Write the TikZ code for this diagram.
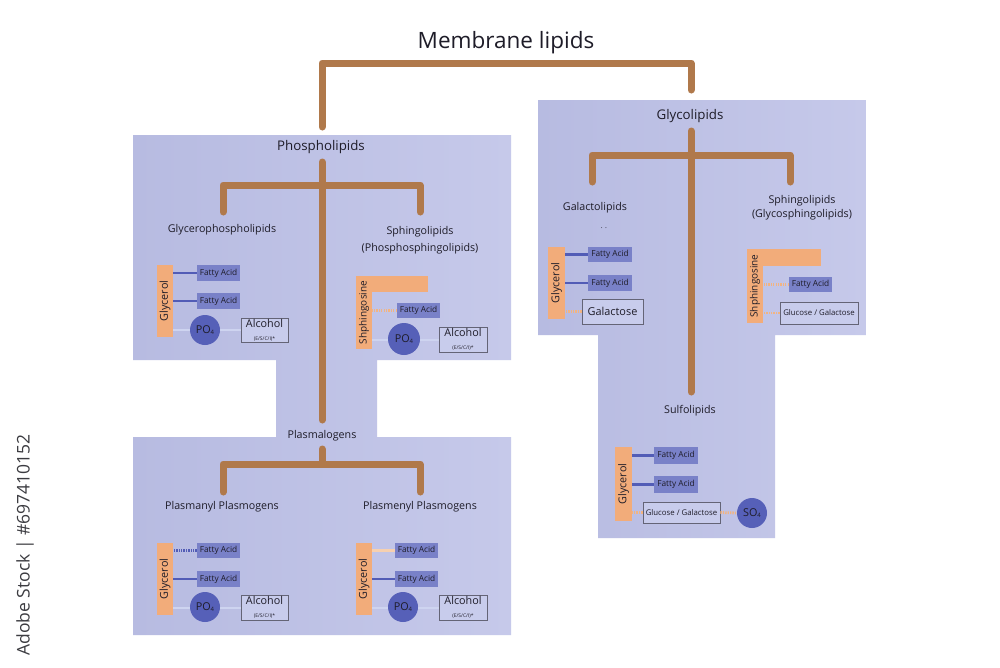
\documentclass[tikz,border=0pt]{standalone}
\usepackage{fontspec}
\setmainfont{Open Sans}
\definecolor{panelL}{RGB}{183,187,225}
\definecolor{panelR}{RGB}{198,201,234}
\definecolor{brn}{RGB}{176,121,75}
\definecolor{faC}{RGB}{121,129,200}
\definecolor{glyC}{RGB}{242,172,122}
\definecolor{poC}{RGB}{86,96,184}
\definecolor{blueL}{RGB}{82,92,182}
\definecolor{dotO}{RGB}{242,180,130}
\definecolor{peach}{RGB}{246,208,176}
\definecolor{faint}{RGB}{206,212,240}
\definecolor{txt}{RGB}{30,28,40}
\definecolor{boxF}{RGB}{200,204,236}
\definecolor{boxD}{RGB}{100,100,118}
\newcommand{\fsz}[1]{\fontsize{#1}{#1}\selectfont}
\newcommand{\subfour}{\raisebox{-0.3ex}{\fsz{6}4}}
\begin{document}
\begin{tikzpicture}[x=1pt,y=-1pt,
  every node/.style={inner sep=0pt, text=txt},
  panel/.style={left color=panelL, right color=panelR, draw=none},
  brline/.style={draw=brn, line width=7pt, line cap=round, line join=round},
  titletext/.style={font=\fsz{13.3}},
  labeltext/.style={font=\fsz{10.7}},
  fabox/.style={fill=faC, minimum width=43pt, minimum height=16pt, font=\fsz{8.3}},
  glybar/.style={fill=glyC, rotate=90, minimum width=72pt, minimum height=16pt, font=\fsz{10.8}},
  sphbar/.style={fill=glyC, rotate=90, minimum width=73pt, minimum height=16pt, font=\fsz{10}},
  pocirc/.style={circle, fill=poC, minimum size=30pt, font=\fsz{10.8}},
  alcbox/.style={draw=boxD, fill=boxF, line width=0.9pt, minimum width=47pt, minimum height=24pt, align=center},
  sugbox/.style={draw=boxD, fill=boxF, line width=0.9pt, minimum height=22pt},
  bondB/.style={draw=blueL, line width=2.6pt},
  bondBdot/.style={draw=blueL, line width=2.6pt, dash pattern=on 1.4pt off 1pt},
  bondO/.style={draw=dotO, line width=2.8pt, dash pattern=on 1.3pt off 1.1pt},
  bondP/.style={draw=peach, line width=2.6pt},
  bondF/.style={draw=faint, line width=2pt}
]
\useasboundingbox (0,0) rectangle (1000,667);
\fill[white] (0,0) rectangle (1000,667);

% panels
\path[panel] (133,135) -- (511,135) -- (511,360) -- (377,360) -- (377,437) -- (511,437)
  -- (511,635) -- (133,635) -- (133,437) -- (276,437) -- (276,360) -- (133,360) -- cycle;
\path[panel] (538,100) -- (866,100) -- (866,335) -- (775,335) -- (775,538) -- (598,538)
  -- (598,335) -- (538,335) -- cycle;

% watermark side text
\node[rotate=90, font=\fsz{17.5}, text={rgb,255:red,60;green,60;blue,65}] (wm) at (25,545) {Adobe Stock | \#697410152};

% titles and labels
\node[font=\fsz{22.5}] (ml) at (506,43) {Membrane lipids};
\node[titletext] (pl) at (321,147) {Phospholipids};
\node[titletext] (gl) at (690,116) {Glycolipids};
\node[labeltext] (gp) at (222,230) {Glycerophospholipids};
\node[labeltext, align=center] (sp) at (420,240) {Sphingolipids\\[6pt](Phosphosphingolipids)};
\node[labeltext] (gal) at (595,208) {Galactolipids};
\node[font=\fsz{7}] (dots) at (604,228) {. .};
\node[labeltext, align=center] (gsp) at (802,208) {Sphingolipids\\[3pt](Glycosphingolipids)};
\node[labeltext] (sul) at (690,411) {Sulfolipids};
\node[labeltext] (pg) at (322,436) {Plasmalogens};
\node[labeltext] (pan) at (222,507) {Plasmanyl Plasmogens};
\node[labeltext] (pen) at (420,507) {Plasmenyl Plasmogens};

% brown trees
\coordinate (mlL) at (322,127);
\coordinate (mlR) at (691,90);
\draw[brline] (mlL) -- (322,63) -- (691,63) -- (mlR);
\coordinate (plS) at (322,162);
\coordinate (plE) at (322,420);
\draw[brline] (plS) -- (plE);
\coordinate (gpT) at (223,212);
\coordinate (spT) at (420,212);
\draw[brline] (gpT) -- (223,185) -- (420,185) -- (spT);
\coordinate (glS) at (691,131);
\coordinate (glE) at (691,392);
\draw[brline] (glS) -- (glE);
\coordinate (galT) at (592,182);
\coordinate (gspT) at (790,182);
\draw[brline] (galT) -- (592,155) -- (790,155) -- (gspT);
\coordinate (pgS) at (322,449);
\draw[brline] (pgS) -- (322,464);
\coordinate (panT) at (223,492);
\coordinate (penT) at (420,492);
\draw[brline] (panT) -- (223,464) -- (420,464) -- (penT);

% ---------- Glycerophospholipids block ----------
\node[glybar] (g1) at (165,301) {Glycerol};
\node[fabox] (f1a) at (218.5,273) {Fatty Acid};
\node[fabox] (f1b) at (218.5,301) {Fatty Acid};
\node[alcbox] (a1) at (264.5,330) {\fsz{10.8}Alcohol\\[1pt]{\fsz{5}(E/S/C/I)*}};
\draw[bondF] (a1.west) -- (a1.west -| g1.south);
\node[pocirc] (p1) at (205,330) {PO\subfour};
\draw[bondB] (f1a.west) -- (f1a.west -| g1.south);
\draw[bondB] (f1b.west) -- (f1b.west -| g1.south);

% ---------- Phosphosphingolipids block ----------
\fill[glyC] (356,276) rectangle (428,292);
\node[sphbar] (s2) at (364,312.5) {Shphingosine};
\node[fabox, minimum height=15pt] (f2) at (418.5,310.5) {Fatty Acid};
\node[alcbox, minimum width=48pt, minimum height=25pt] (a2) at (463,339.5) {\fsz{10.8}Alcohol\\[1pt]{\fsz{5}(E/S/C/I)*}};
\draw[bondF] (a2.west) -- (a2.west -| s2.south);
\node[pocirc, minimum size=32pt] (p2) at (404,339) {PO\subfour};
\draw[bondO] (f2.west) -- (f2.west -| s2.south);

% ---------- Galactolipids block ----------
\node[glybar, minimum height=17pt] (g3) at (556.5,283) {Glycerol};
\node[fabox, minimum width=44pt, minimum height=15pt] (f3a) at (610,254.5) {Fatty Acid};
\node[fabox, minimum width=44pt] (f3b) at (610,283) {Fatty Acid};
\node[sugbox, minimum width=61pt, minimum height=25pt, font=\fsz{10.9}] (ga3) at (612.5,311.5) {Galactose};
\draw[bondB] (f3a.west) -- (f3a.west -| g3.south);
\draw[bondB] (f3b.west) -- (f3b.west -| g3.south);
\draw[bondO] (ga3.west) -- (ga3.west -| g3.south);

% ---------- Glycosphingolipids block ----------
\fill[glyC] (747,249) rectangle (821,266);
\node[sphbar, minimum width=74pt] (s4) at (755,286) {Shphingosine};
\node[fabox, minimum height=15pt] (f4) at (810.5,284.5) {Fatty Acid};
\node[sugbox, minimum width=78pt, font=\fsz{7.8}] (gg4) at (819,313) {Glucose / Galactose};
\draw[bondO] (f4.west) -- (f4.west -| s4.south);
\draw[bondO] (gg4.west) -- (gg4.west -| s4.south);

% ---------- Sulfolipids block ----------
\node[glybar, minimum width=74pt, minimum height=17pt] (g5) at (623.5,484) {Glycerol};
\node[fabox, minimum width=44pt, minimum height=17pt] (f5a) at (676,455.5) {Fatty Acid};
\node[fabox, minimum width=44pt, minimum height=17pt] (f5b) at (676,484.5) {Fatty Acid};
\node[sugbox, minimum width=77pt, minimum height=21pt, font=\fsz{7.8}] (gg5) at (681.5,512.5) {Glucose / Galactose};
\node[pocirc] (so5) at (752,513) {SO\subfour};
\draw[bondB] (f5a.west) -- (f5a.west -| g5.south);
\draw[bondB] (f5b.west) -- (f5b.west -| g5.south);
\draw[bondO] (gg5.west) -- (gg5.west -| g5.south);
\draw[bondO] (gg5.east) -- (so5.west);

% ---------- Plasmanyl block ----------
\node[glybar] (g6) at (165,579) {Glycerol};
\node[fabox, minimum height=15pt] (f6a) at (218.5,550.5) {Fatty Acid};
\node[fabox] (f6b) at (218.5,579) {Fatty Acid};
\node[alcbox, minimum height=25pt] (a6) at (264.5,607.5) {\fsz{10.8}Alcohol\\[1pt]{\fsz{5}(E/S/C/I)*}};
\draw[bondF] (a6.west) -- (a6.west -| g6.south);
\node[pocirc] (p6) at (205,607) {PO\subfour};
\draw[bondBdot] (f6a.west) -- (f6a.west -| g6.south);
\draw[bondB] (f6b.west) -- (f6b.west -| g6.south);

% ---------- Plasmenyl block ----------
\node[glybar] (g7) at (364,579) {Glycerol};
\node[fabox, minimum height=15pt] (f7a) at (416.5,550.5) {Fatty Acid};
\node[fabox] (f7b) at (416.5,579) {Fatty Acid};
\node[alcbox, minimum width=48pt, minimum height=25pt] (a7) at (463,607.5) {\fsz{10.8}Alcohol\\[1pt]{\fsz{5}(E/S/C/I)*}};
\draw[bondF] (a7.west) -- (a7.west -| g7.south);
\node[pocirc] (p7) at (403,607) {PO\subfour};
\draw[bondP] (f7a.west) -- (f7a.west -| g7.south);
\draw[bondB] (f7b.west) -- (f7b.west -| g7.south);
\end{tikzpicture}
\end{document}
